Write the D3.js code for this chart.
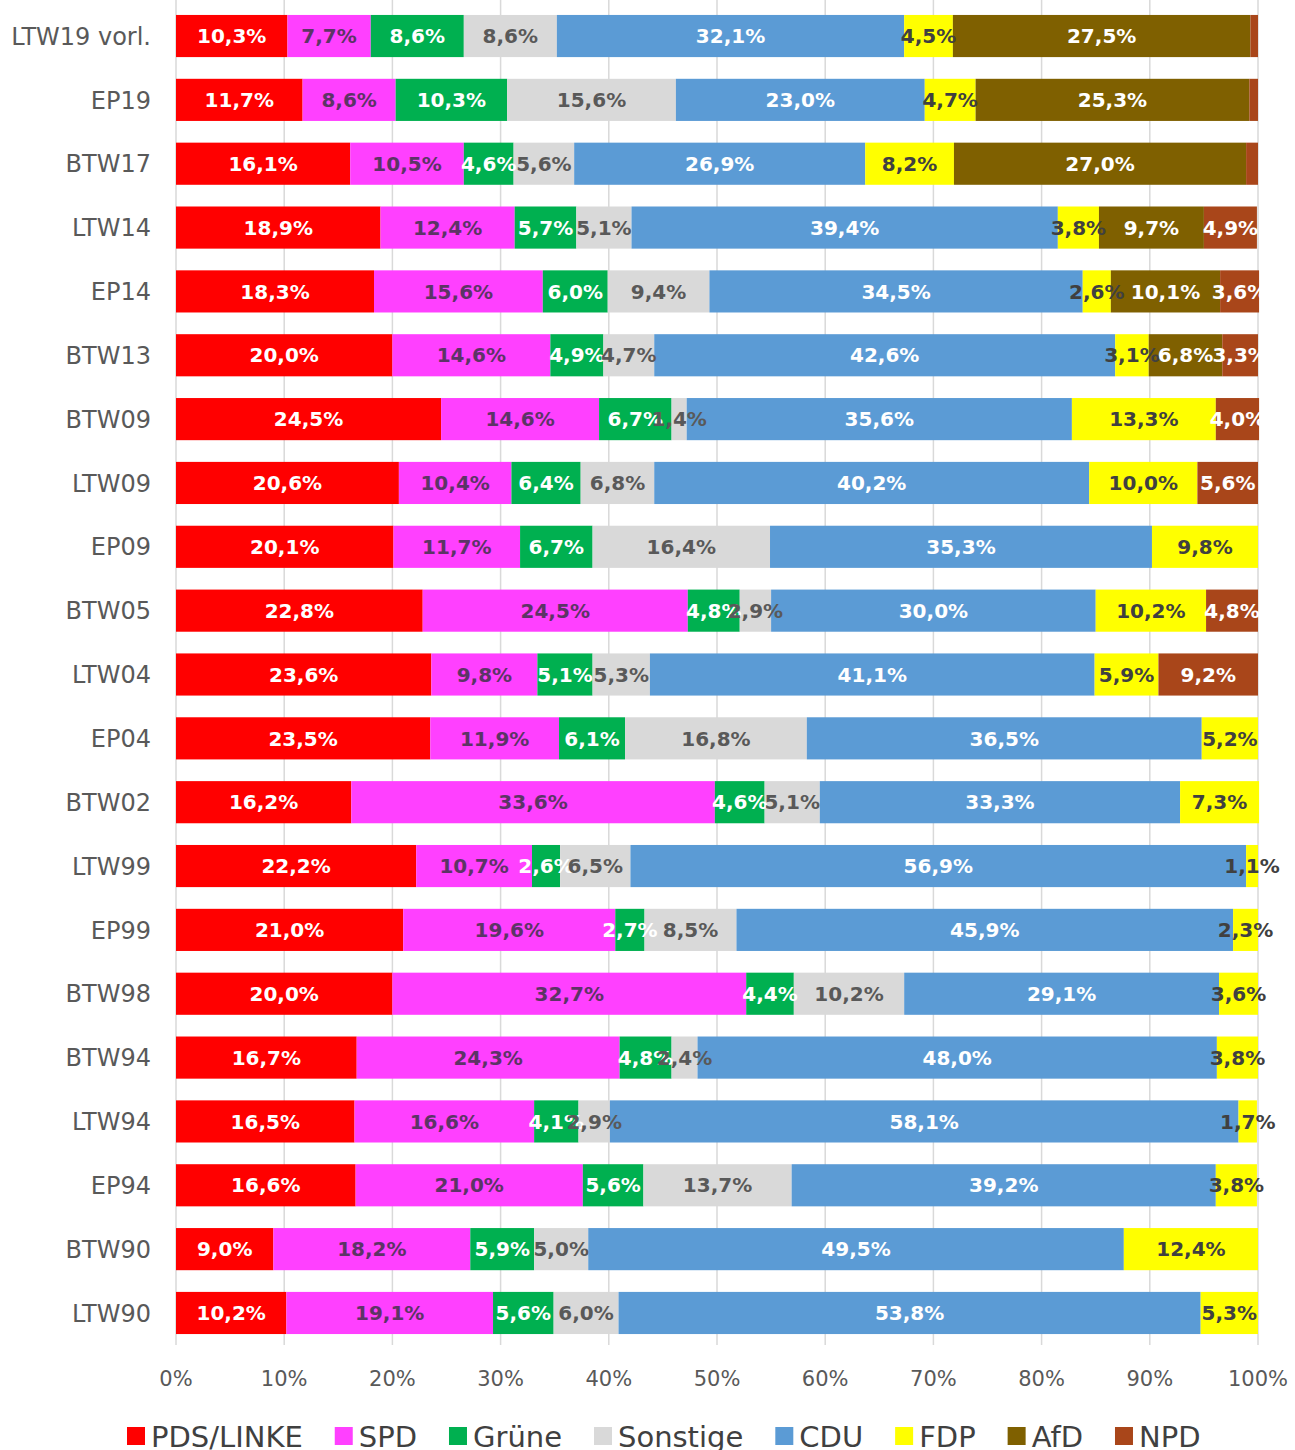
<!DOCTYPE html>
<html>
<head>
<meta charset="utf-8">
<script src="https://cdn.jsdelivr.net/npm/d3@7"></script>
<style>
  body { margin: 0; background: #fff; }
  text { font-family: "DejaVu Sans", Verdana, sans-serif; }
</style>
</head>
<body>
<script>
// Wahlen, Anteile in %
var categories = ["LTW19 vorl.", "EP19", "BTW17", "LTW14", "EP14", "BTW13", "BTW09", "LTW09", "EP09", "BTW05",
  "LTW04", "EP04", "BTW02", "LTW99", "EP99", "BTW98", "BTW94", "LTW94", "EP94", "BTW90", "LTW90"];

var linke    = [10.3, 11.7, 16.1, 18.9, 18.3, 20.0, 24.5, 20.6, 20.1, 22.8, 23.6, 23.5, 16.2, 22.2, 21.0, 20.0, 16.7, 16.5, 16.6, 9.0, 10.2];
var spd      = [7.7, 8.6, 10.5, 12.4, 15.6, 14.6, 14.6, 10.4, 11.7, 24.5, 9.8, 11.9, 33.6, 10.7, 19.6, 32.7, 24.3, 16.6, 21.0, 18.2, 19.1];
var gruene   = [8.6, 10.3, 4.6, 5.7, 6.0, 4.9, 6.7, 6.4, 6.7, 4.8, 5.1, 6.1, 4.6, 2.6, 2.7, 4.4, 4.8, 4.1, 5.6, 5.9, 5.6];
var sonstige = [8.6, 15.6, 5.6, 5.1, 9.4, 4.7, 1.4, 6.8, 16.4, 2.9, 5.3, 16.8, 5.1, 6.5, 8.5, 10.2, 2.4, 2.9, 13.7, 5.0, 6.0];
var cdu      = [32.1, 23.0, 26.9, 39.4, 34.5, 42.6, 35.6, 40.2, 35.3, 30.0, 41.1, 36.5, 33.3, 56.9, 45.9, 29.1, 48.0, 58.1, 39.2, 49.5, 53.8];
var fdp      = [4.5, 4.7, 8.2, 3.8, 2.6, 3.1, 13.3, 10.0, 9.8, 10.2, 5.9, 5.2, 7.3, 1.1, 2.3, 3.6, 3.8, 1.7, 3.8, 12.4, 5.3];
var afd      = [27.5, 25.3, 27.0, 9.7, 10.1, 6.8, 0, 0, 0, 0, 0, 0, 0, 0, 0, 0, 0, 0, 0, 0, 0];
var npd      = [0.7, 0.8, 1.1, 4.9, 3.6, 3.3, 4.0, 5.6, 0, 4.8, 9.2, 0, 0, 0, 0, 0, 0, 0, 0, 0, 0];

var parties = ["PDS/LINKE", "SPD", "Grüne", "Sonstige", "CDU", "FDP", "AfD", "NPD"];
var partyValues = [linke, spd, gruene, sonstige, cdu, fdp, afd, npd];
var colors = ["#ff0000", "#ff40ff", "#00b050", "#d9d9d9", "#5b9bd5", "#ffff00", "#7f6000", "#a9461a"];
var labelColors = ["#ffffff", "#5c3466", "#ffffff", "#595959", "#ffffff", "#404040", "#ffffff", "#ffffff"];
var xTicks = [0, 10, 20, 30, 40, 50, 60, 70, 80, 90, 100];

var width = 1295, height = 1450;

var svg = d3.select("body")
  .append("svg")
  .attr("width", width)
  .attr("height", height);

// build rows for the stack
var rows = categories.map(function(c, i){
  var r = {cat: c};
  parties.forEach(function(p, j){ r[p] = partyValues[j][i]; });
  return r;
});

var stack = d3.stack().keys(parties);
var series = stack(rows);

var x = d3.scaleLinear().domain([0, 100]).range([176, 1258]);
var y = d3.scaleBand().domain(categories).range([4.1, 1344.9]).paddingInner(0.34).paddingOuter(0.17);

// gridlines
svg.append("g")
  .selectAll("line")
  .data(xTicks)
  .enter()
  .append("line")
    .attr("x1", function(d){return x(d);})
    .attr("x2", function(d){return x(d);})
    .attr("y1", 0)
    .attr("y2", 1345)
    .attr("stroke", "#d9d9d9")
    .attr("stroke-width", 1.5);

// bars
var layers = svg.append("g")
  .selectAll("g")
  .data(series)
  .enter()
  .append("g")
    .attr("fill", function(d, i){return colors[i];});

layers.selectAll("rect")
  .data(function(d){return d;})
  .enter()
  .append("rect")
    .attr("x", function(d){return x(d[0]);})
    .attr("y", function(d){return y(d.data.cat);})
    .attr("width", function(d){return x(d[1]) - x(d[0]);})
    .attr("height", y.bandwidth());

// labels (the tiny NPD slivers carry none)
var fmt = d3.format(".1f");
var labelLayers = svg.append("g")
  .selectAll("g")
  .data(series)
  .enter()
  .append("g")
    .attr("fill", function(d, i){return labelColors[i];});

labelLayers.selectAll("text")
  .data(function(d){
    var minV = d.key == "NPD" ? 2 : 1;
    return d.filter(function(e){return (e[1] - e[0]) >= minV;});
  })
  .enter()
  .append("text")
    .attr("x", function(d){return (x(d[0]) + x(d[1])) / 2;})
    .attr("y", function(d){return y(d.data.cat) + y.bandwidth() / 2;})
    .attr("dy", "0.36em")
    .attr("text-anchor", "middle")
    .attr("font-size", 20)
    .attr("font-weight", "bold")
    .text(function(d){return fmt(d[1] - d[0]).replace(".", ",") + "%";});

// category labels
svg.append("g")
  .selectAll("text")
  .data(categories)
  .enter()
  .append("text")
    .attr("x", 151)
    .attr("y", function(d){return y(d) + y.bandwidth() / 2;})
    .attr("dy", "0.36em")
    .attr("text-anchor", "end")
    .attr("font-size", 24)
    .attr("fill", "#595959")
    .text(function(d){return d;});

// x axis labels
svg.append("g")
  .selectAll("text")
  .data(xTicks)
  .enter()
  .append("text")
    .attr("x", function(d){return x(d);})
    .attr("y", 1378)
    .attr("dy", "0.36em")
    .attr("text-anchor", "middle")
    .attr("font-size", 21)
    .attr("fill", "#595959")
    .text(function(d){return d + "%";});

// legend
var legend = svg.append("g");
var lx = 127;
parties.forEach(function(p, i){
  legend.append("rect")
    .attr("x", lx)
    .attr("y", 1427)
    .attr("width", 18)
    .attr("height", 18)
    .attr("fill", colors[i]);
  var t = legend.append("text")
    .attr("x", lx + 24)
    .attr("y", 1437)
    .attr("dy", "0.36em")
    .attr("font-size", 29)
    .attr("fill", "#404040")
    .text(p);
  lx = lx + 24 + t.node().getComputedTextLength() + 32;
});
</script>
</body>
</html>
